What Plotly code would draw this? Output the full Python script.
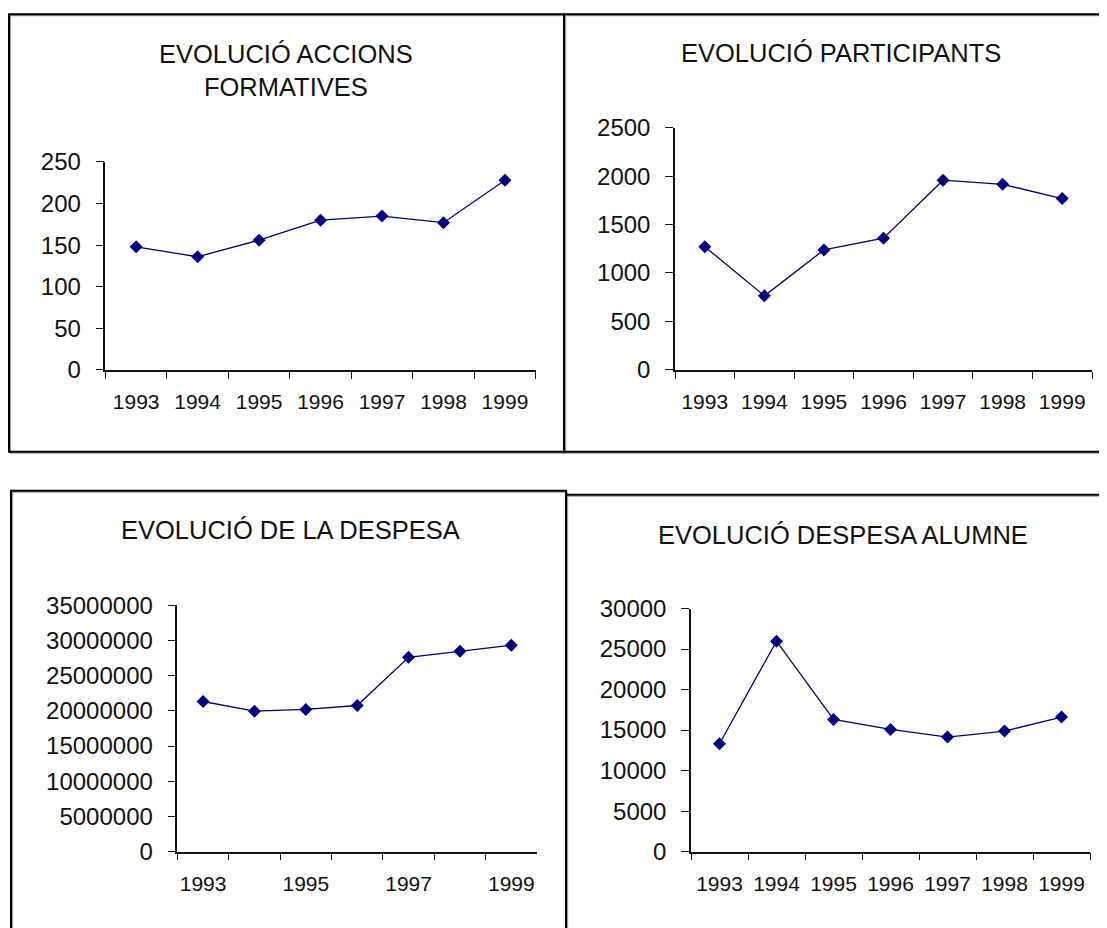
import plotly.graph_objects as go

# Placement of the figure in the captured page (body offset and vertical fit)
OX = 8          # horizontal page offset of the figure
TOP = 22.5      # vertical page offset of the figure
SY = 928 / 955  # vertical scale between page and picture
W, H = 1091, 924

years = ["1993", "1994", "1995", "1996", "1997", "1998", "1999"]
accions = [148, 136, 156, 180, 185, 177, 228]
participants = [1272, 764, 1238, 1359, 1958, 1916, 1768]
despesa = [21330000, 19960000, 20200000, 20760000, 27600000, 28470000, 29320000]
despesa_alumne = [13315, 25973, 16315, 15082, 14137, 14877, 16603]
despesa_xlabels = [y if i % 2 == 0 else "" for i, y in enumerate(years)]

titles = ["EVOLUCIÓ ACCIONS<br>FORMATIVES", "EVOLUCIÓ PARTICIPANTS",
          "EVOLUCIÓ DE LA DESPESA", "EVOLUCIÓ DESPESA ALUMNE"]

FONT = "Liberation Sans, Arial, sans-serif"
NAVY = "#000080"


def px_x(p):
    return (p - OX) / W


def px_y(p):
    return 1 - (p / SY - TOP) / H


# (series, y max, dtick, x pixel domain, y pixel domain (bottom, top), x labels)
panels = [
    (accions, 250, 50, (105.4, 535.7), (370, 162), years),
    (participants, 2500, 500, (675, 1092), (370, 127.7), years),
    (despesa, 35000000, 5000000, (177.4, 537), (852.3, 605.7), despesa_xlabels),
    (despesa_alumne, 30000, 5000, (691, 1090), (852.3, 609), years),
]

fig = go.Figure()
layout = dict(
    width=W, height=H, autosize=False,
    margin=dict(l=0, r=0, t=0, b=0),
    paper_bgcolor="white", plot_bgcolor="white",
    showlegend=False,
    font=dict(family=FONT, color="#111"),
)

for i, (vals, ymax, dt, xd, yd, xl) in enumerate(panels):
    n = "" if i == 0 else str(i + 1)
    fig.add_trace(go.Scatter(
        x=years, y=vals, mode="lines+markers",
        xaxis="x" + n, yaxis="y" + n,
        line=dict(color=NAVY, width=1.3),
        marker=dict(symbol="diamond", size=10, color=NAVY),
        hoverinfo="skip",
    ))
    layout["xaxis" + n] = dict(
        type="category", domain=[px_x(xd[0]), px_x(xd[1])], anchor="y" + n,
        range=[-0.5, 6.5], tickmode="array", tickvals=years, ticktext=xl,
        tickson="boundaries", ticks="outside", ticklen=7, tickcolor="#111",
        showline=True, linecolor="#111", linewidth=1.5, showgrid=False,
        zeroline=False, tickfont=dict(size=21, family=FONT, color="#111"),
        tickangle=0, ticklabelstandoff=12, fixedrange=True,
    )
    layout["yaxis" + n] = dict(
        domain=[px_y(yd[0]), px_y(yd[1])], anchor="x" + n,
        range=[0, ymax], dtick=dt, tick0=0, tickformat="d",
        ticks="outside", ticklen=8, tickcolor="#111",
        showline=True, linecolor="#111", linewidth=1.5, showgrid=False,
        zeroline=False, tickfont=dict(size=24, family=FONT, color="#111"),
        ticklabelstandoff=10, fixedrange=True,
    )

fig.update_layout(**layout)

# titles
title_pos = [(286, 70), (841, 53), (290, 530), (843, 535)]
for t, (tx, ty) in zip(titles, title_pos):
    fig.add_annotation(
        text=t, x=px_x(tx), y=px_y(ty), xref="paper", yref="paper",
        showarrow=False, xanchor="center", yanchor="middle",
        font=dict(size=25.5, family=FONT, color="#111"),
    )

# chart borders (black frame with grey inner shadow)
frames = [(9, 14, 564, 452), (564, 14, 1125, 452), (11, 491, 566, 960), (566, 495, 1125, 960)]
for (x0, y0, x1, y1) in frames:
    fig.add_shape(type="rect", xref="paper", yref="paper",
                  x0=px_x(x0 + 1.5), y0=px_y(y0 + 1.5), x1=px_x(x1 + 1.5), y1=px_y(y1 + 1.5),
                  line=dict(color="#9a9a9a", width=1.2), layer="below")
    fig.add_shape(type="rect", xref="paper", yref="paper",
                  x0=px_x(x0), y0=px_y(y0), x1=px_x(x1), y1=px_y(y1),
                  line=dict(color="black", width=2), layer="below")

fig.write_html("out.html")
